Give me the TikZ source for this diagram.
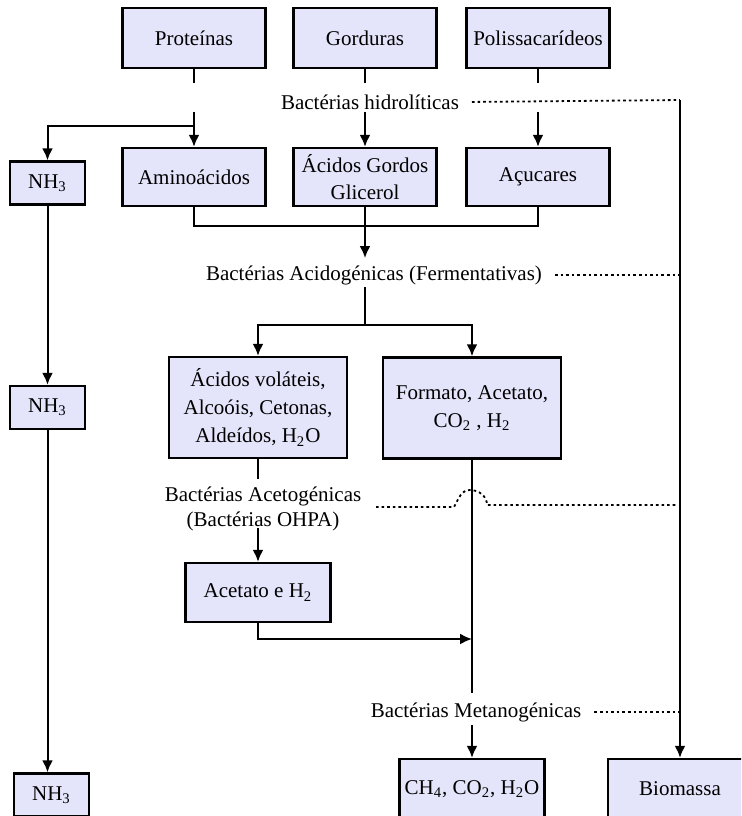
\documentclass[tikz,border=0pt]{standalone}
\usepackage{fontspec}
\setmainfont{Liberation Serif}
\usepackage{tikz}
\usetikzlibrary{arrows.meta,positioning}
\definecolor{boxfill}{RGB}{228,228,250}

\begin{document}
\begin{tikzpicture}[x=0.5pt, y=-0.5pt,
    font=\fontsize{10.5}{14}\selectfont,
    box/.style={draw, line width=1.2pt, fill=boxfill, align=center, inner sep=0pt},
    big/.style={box, minimum width=71.5pt, minimum height=30pt},
    small/.style={box, minimum width=37.5pt, minimum height=21.5pt},
    tall/.style={box, minimum width=89pt, minimum height=50.5pt},
    link/.style={line width=1pt},
    flow/.style={line width=1pt, -{Latex[length=6pt,width=5.5pt]}},
    dots/.style={line width=0.9pt, dash pattern=on 1.3pt off 1.5pt, shorten <=3pt}]
    \clip (0,0) rectangle (741,816);

    \node[big] (prot) at (194,38) {Proteínas};
    \node[big] (gord) at (365,38) {Gorduras};
    \node[big] (polis) at (538,38) {Polissacarídeos};

    \node[big, minimum height=29pt] (amino) at (194,177) {Aminoácidos};
    \node[big, minimum height=29pt, font=\fontsize{10.5}{13.5}\selectfont] (gordos) at (365,177) {Ácidos Gordos\\Glicerol};
    \node[big, minimum height=29pt] (acucar) at (538,177) {Açucares};
    \node[small] (nh3a) at (47.5,183) {NH\textsubscript{3}};

    \node[tall] (volat) at (258,407.5) {Ácidos voláteis,\\Alcoóis, Cetonas,\\Aldeídos, H\textsubscript{2}O};
    \node[tall] (formato) at (472,408) {Formato, Acetato,\\CO\textsubscript{2} , H\textsubscript{2}};
    \node[small] (nh3b) at (47.5,407.5) {NH\textsubscript{3}};

    \node[big, minimum width=72.5pt, minimum height=29.5pt] (acetato) at (258,592.5) {Acetato e H\textsubscript{2}};

    \node[big, minimum width=72.5pt] (ch4) at (472,789) {CH\textsubscript{4}, CO\textsubscript{2}, H\textsubscript{2}O};
    \node[big, minimum width=72pt] (bio) at (680,789) {Biomassa};
    \node[small] (nh3c) at (51.5,795) {NH\textsubscript{3}};

    \node (hidro) at (370,102) {Bactérias hidrolíticas};
    \node (acido) at (374,275) {Bactérias Acidogénicas (Fermentativas)};
    \node[align=center, font=\fontsize{10.5}{12.5}\selectfont] (aceto) at (263,509) {Bactérias Acetogénicas\\(Bactérias OHPA)};
    \node (metano) at (476,712) {Bactérias Metanogénicas};

    \coordinate (h1) at (194,112);
    \coordinate (h2) at (365,112);
    \coordinate (h3) at (538,112);
    \coordinate (m) at (365,226);
    \coordinate (a1) at (365,258);
    \coordinate (a2) at (365,287);
    \coordinate (s) at (365,325);
    \coordinate (c1) at (258,528);
    \coordinate (j) at (472,639);
    \coordinate (f1) at (472,693);
    \coordinate (f2) at (472,725);
    \coordinate (b0) at (680,100);
    \coordinate (d1) at (376,507);

    \draw[link] (prot.south) -- ++(0,14);
    \draw[link] (gord.south) -- ++(0,14);
    \draw[link] (polis.south) -- ++(0,14);
    \draw[flow] (h1) -- (amino);
    \draw[flow] (h2) -- (gordos);
    \draw[flow] (h3) -- (acucar);
    \draw[flow] (h1) ++(0,14) -| (nh3a);

    \draw[link] (amino.south) |- (acucar.south |- m) -- (acucar.south);
    \draw[flow] (gordos.south) -- (a1);
    \draw[link] (a2) -- (s);
    \draw[flow] (s) -| (volat);
    \draw[flow] (s) -| (formato);

    \draw[flow] (nh3a) -- (nh3b);
    \draw[flow] (nh3b.south) -- (nh3b.south |- nh3c.north);

    \draw[link] (volat.south) -- ++(0,20);
    \draw[flow] (c1) -- (acetato);
    \draw[flow] (acetato.south) |- (j);
    \draw[link] (formato.south) -- (f1);
    \draw[flow] (f2) -- (ch4);

    \draw[dots] (hidro.east) -- (b0);
    \draw[flow] (b0) -- (bio);
    \draw[dots] (acido.east) -- (acido.east -| b0);
    \draw[dots, shorten <=0pt] (d1) -- ++(78,0) to[out=60,in=180] ++(16,-17) to[out=0,in=90] ++(17,15) -- ++(191,0);
    \draw[dots] (metano.east) -- (metano.east -| b0);
\end{tikzpicture}
\end{document}
